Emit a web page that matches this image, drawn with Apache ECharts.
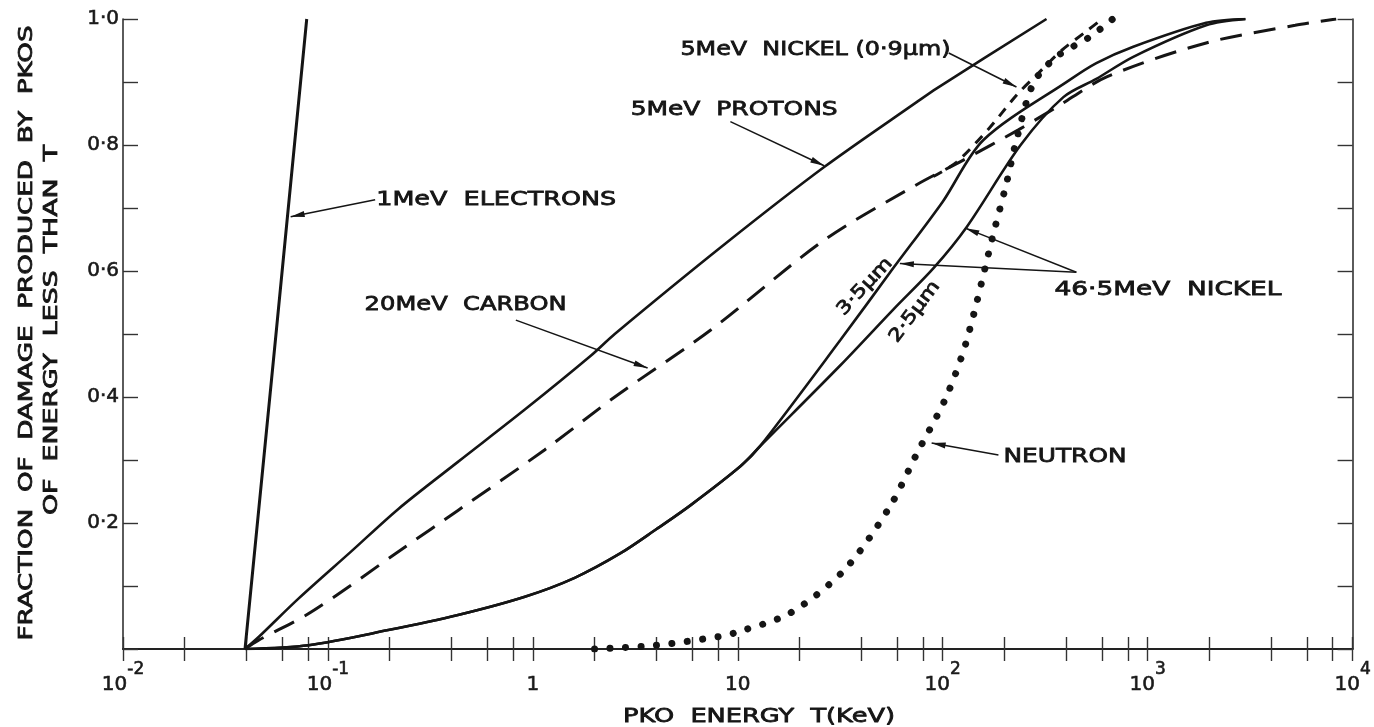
<!DOCTYPE html>
<html>
<head>
<meta charset="utf-8">
<script src="https://cdn.jsdelivr.net/npm/echarts@6/dist/echarts.min.js"></script>
<style>
  html, body { margin: 0; padding: 0; background: #fff; }
  #chart { width: 1374px; height: 727px; }
</style>
</head>
<body>
<div id="chart"></div>
<script>
// PKO energy T (keV) and fraction of damage
const electronT = [0.0394, 0.0558, 0.0788];
const electronF = [0, 0.5, 1.0];

const protonT = [0.0394, 0.0459, 0.0718, 0.130, 0.220, 0.431, 0.914, 1.91, 2.51, 8.59, 26.4, 74.6, 93.5, 321];
const protonF = [0, 0.019, 0.08, 0.155, 0.222, 0.297, 0.38, 0.465, 0.50, 0.642, 0.765, 0.868, 0.89, 1.0];

const carbonT = [0.0394, 0.0459, 0.0832, 0.238, 0.431, 1.14, 2.51, 7.35, 26.4, 74.6, 126, 234, 359, 631, 1930, 5250, 8320];
const carbonF = [0, 0.014, 0.059, 0.162, 0.22, 0.316, 0.40, 0.506, 0.649, 0.737, 0.776, 0.824, 0.86, 0.908, 0.962, 0.99, 1.0];

const nickel09T = [90, 117, 169, 229, 287, 380, 500, 600];
const nickel09F = [0.75, 0.773, 0.827, 0.879, 0.911, 0.95, 0.98, 1.0];

// 46.5 MeV nickel: common low-energy part, then two branches
const nickelLowT = [0.0394, 0.0804, 0.197, 0.431, 0.914, 1.6, 2.68, 4.0, 5.87, 10.3, 12.85];
const nickelLowF = [0, 0.006, 0.03, 0.054, 0.083, 0.113, 0.152, 0.19, 0.228, 0.29, 0.322];
const nickel35T = [31.6, 57.5, 100, 158, 415, 562, 851, 1930, 3000];
const nickel35F = [0.49, 0.605, 0.71, 0.808, 0.903, 0.93, 0.956, 0.994, 1.0];
const nickel25T = [31.6, 57.8, 90.4, 131, 240, 388, 562, 851, 1930, 3000];
const nickel25F = [0.45, 0.54, 0.605, 0.67, 0.80, 0.876, 0.905, 0.94, 0.99, 1.0];

const neutronT = [2, 4, 8.2, 10, 18, 33, 55, 75, 104, 131, 177, 205, 229, 277, 359, 519, 676];
const neutronF = [0, 0.006, 0.02, 0.027, 0.057, 0.125, 0.225, 0.311, 0.40, 0.49, 0.66, 0.74, 0.808, 0.898, 0.94, 0.971, 1.0];

const decades = [-2, -1, 0, 1, 2, 3, 4];
const supText = { '-2': '-2', '-1': '-1', '2': '2', '3': '3', '4': '4' };

const pairs = (xs, ys) => xs.map((x, i) => [x, ys[i]]);

const tickVals = [];
decades.forEach(e => {
    tickVals.push(Math.pow(10, e));
    if (e < 4) [2, 4, 6, 8].forEach(m => tickVals.push(m * Math.pow(10, e)));
});

const INK = '#151515';
const FONT = '"DejaVu Sans", sans-serif';

const chart = echarts.init(document.getElementById('chart'));

function line(name, data, lineStyle, smooth) {
    return {
        name: name,
        type: 'line',
        data: data,
        symbol: 'none',
        smooth: smooth === undefined ? 0.3 : smooth,
        lineStyle: Object.assign({ color: INK, width: 2.6 }, lineStyle),
        silent: true
    };
}

const xAxisBase = {
    type: 'log',
    logBase: 10,
    min: 0.01,
    max: 10000,
    splitLine: { show: false },
    minorTick: { show: false },
    axisLine: { lineStyle: { color: '#333', width: 1.6 } },
    axisTick: { inside: true, length: 12, customValues: tickVals, lineStyle: { color: '#333', width: 1.4 } }
};

const yAxisBase = {
    type: 'value',
    min: 0,
    max: 1,
    interval: 0.1,
    splitLine: { show: false },
    axisLine: { show: true, lineStyle: { color: '#333', width: 1.6 } },
    axisTick: { show: true, inside: true, length: 15, lineStyle: { color: '#333', width: 1.4 } }
};

const labelInk = { color: '#1a1a1a', textBorderColor: '#1a1a1a', textBorderWidth: 0.6 };

chart.setOption({
    animation: false,
    backgroundColor: '#fff',
    grid: { left: 123, right: 17, top: 19, bottom: 78 },
    xAxis: [
        Object.assign({}, xAxisBase, {
            position: 'bottom',
            axisLabel: {
                margin: 12,
                color: '#1a1a1a',
                formatter: v => {
                    const e = Math.round(Math.log10(v));
                    if (e === 0) return '{b|1}';
                    if (e === 1) return '{b|10}';
                    return '{b|10}{s|' + supText[String(e)] + '}';
                },
                rich: {
                    b: Object.assign({ fontSize: 20, fontFamily: FONT, verticalAlign: 'bottom', lineHeight: 34 }, labelInk),
                    s: Object.assign({ fontSize: 17, fontFamily: FONT, verticalAlign: 'top', lineHeight: 34 }, labelInk)
                }
            }
        }),
        Object.assign({}, xAxisBase, {
            position: 'top',
            axisLine: { lineStyle: { color: '#222', width: 2 } },
            axisLabel: { show: false }
        })
    ],
    yAxis: [
        Object.assign({}, yAxisBase, {
            position: 'left',
            axisLabel: Object.assign({
                margin: 4,
                fontSize: 20,
                fontFamily: FONT,
                formatter: v => {
                    const k = Math.round(v * 10);
                    return (k > 0 && k % 2 === 0) ? v.toFixed(1).replace('.', '·') : '';
                }
            }, labelInk)
        }),
        Object.assign({}, yAxisBase, {
            position: 'right',
            axisLabel: { show: false }
        })
    ],
    series: [
        line('1MeV electrons', pairs(electronT, electronF), { width: 3 }, false),
        line('5MeV protons', pairs(protonT, protonF)),
        line('20MeV carbon', pairs(carbonT, carbonF), { type: [22, 12], width: 3 }),
        line('5MeV nickel (0.9um)', pairs(nickel09T, nickel09F), { type: [10, 8], width: 3 }),
        line('46.5MeV nickel 3.5um', pairs(nickelLowT, nickelLowF).concat(pairs(nickel35T, nickel35F))),
        line('46.5MeV nickel 2.5um', pairs(nickelLowT, nickelLowF).concat(pairs(nickel25T, nickel25F))),
        line('neutron', pairs(neutronT, neutronF), { type: [0.01, 15.5], cap: 'round', width: 7 })
    ]
});

// ---- annotations (text stretched to the width of the original lettering) ----
const measureCtx = document.createElement('canvas').getContext('2d');
function stretchedText(text, x, y, size, width, opts) {
    opts = opts || {};
    const font = size + 'px ' + FONT;
    measureCtx.font = font;
    const w = measureCtx.measureText(text).width;
    return {
        type: 'text',
        x: x,
        y: y,
        rotation: opts.rotation || 0,
        scaleX: width / w,
        silent: true,
        style: {
            text: text,
            x: 0,
            y: 0,
            fill: INK,
            stroke: INK,
            lineWidth: 0.8,
            font: font,
            textAlign: opts.align || 'left',
            textVerticalAlign: 'middle',
            align: opts.align || 'left',
            verticalAlign: 'middle'
        }
    };
}

const toPx = (T, f) => chart.convertToPixel({ gridIndex: 0 }, [T, f]);

function leader(from, to) {
    const a = toPx(from[0], from[1]);
    const b = toPx(to[0], to[1]);
    const dx = b[0] - a[0], dy = b[1] - a[1];
    const len = Math.hypot(dx, dy);
    const ux = dx / len, uy = dy / len;
    const bx = b[0] - ux * 14, by = b[1] - uy * 14;
    return [{
        type: 'line', silent: true,
        shape: { x1: a[0], y1: a[1], x2: b[0], y2: b[1] },
        style: { stroke: INK, lineWidth: 1.5 }
    }, {
        type: 'polygon', silent: true,
        shape: { points: [[b[0], b[1]], [bx - uy * 3, by + ux * 3], [bx + uy * 3, by - ux * 3]] },
        style: { fill: INK }
    }];
}

// label anchors in data coordinates [T, fraction]
const labels = [
    { text: '1MeV  ELECTRONS', at: [0.172, 0.713], width: 240 },
    { text: '5MeV  PROTONS', at: [3.0, 0.856], width: 207 },
    { text: '5MeV  NICKEL (0·9µm)', at: [5.25, 0.951], width: 270 },
    { text: '20MeV  CARBON', at: [0.151, 0.546], width: 202 },
    { text: '46·5MeV  NICKEL', at: [351, 0.570], width: 227 },
    { text: 'NEUTRON', at: [198, 0.305], width: 123 }
];
const leaders = [
    [[0.170, 0.713], [0.0658, 0.686]],
    [[9.2, 0.837], [26.4, 0.767]],
    [[107, 0.946], [229, 0.892]],
    [[0.826, 0.522], [3.63, 0.446]],
    [[449, 0.598], [61.8, 0.612]],
    [[449, 0.598], [129, 0.668]],
    [[187, 0.308], [88.3, 0.327]]
];

function drawAnnotations() {
    const els = [];
    labels.forEach(l => {
        const p = toPx(l.at[0], l.at[1]);
        els.push(stretchedText(l.text, p[0], p[1], 20, l.width));
    });
    leaders.forEach(l => leader(l[0], l[1]).forEach(e => els.push(e)));

    const p35 = toPx(41.7, 0.575);
    els.push(stretchedText('3·5µm', p35[0], p35[1], 18, 72, { align: 'center', rotation: 47 * Math.PI / 180 }));
    const p25 = toPx(73.1, 0.535);
    els.push(stretchedText('2·5µm', p25[0], p25[1], 18, 72, { align: 'center', rotation: 53 * Math.PI / 180 }));

    // axis titles
    els.push(stretchedText('FRACTION  OF  DAMAGE  PRODUCED  BY  PKOS', 27, 333, 20, 615, { align: 'center', rotation: Math.PI / 2 }));
    els.push(stretchedText('OF  ENERGY  LESS  THAN  T', 52, 330, 20, 370, { align: 'center', rotation: Math.PI / 2 }));
    els.push(stretchedText('PKO  ENERGY  T(KeV)', 759, 717, 20, 272, { align: 'center' }));

    chart.setOption({ graphic: { elements: els } });
}
drawAnnotations();
</script>
</body>
</html>
